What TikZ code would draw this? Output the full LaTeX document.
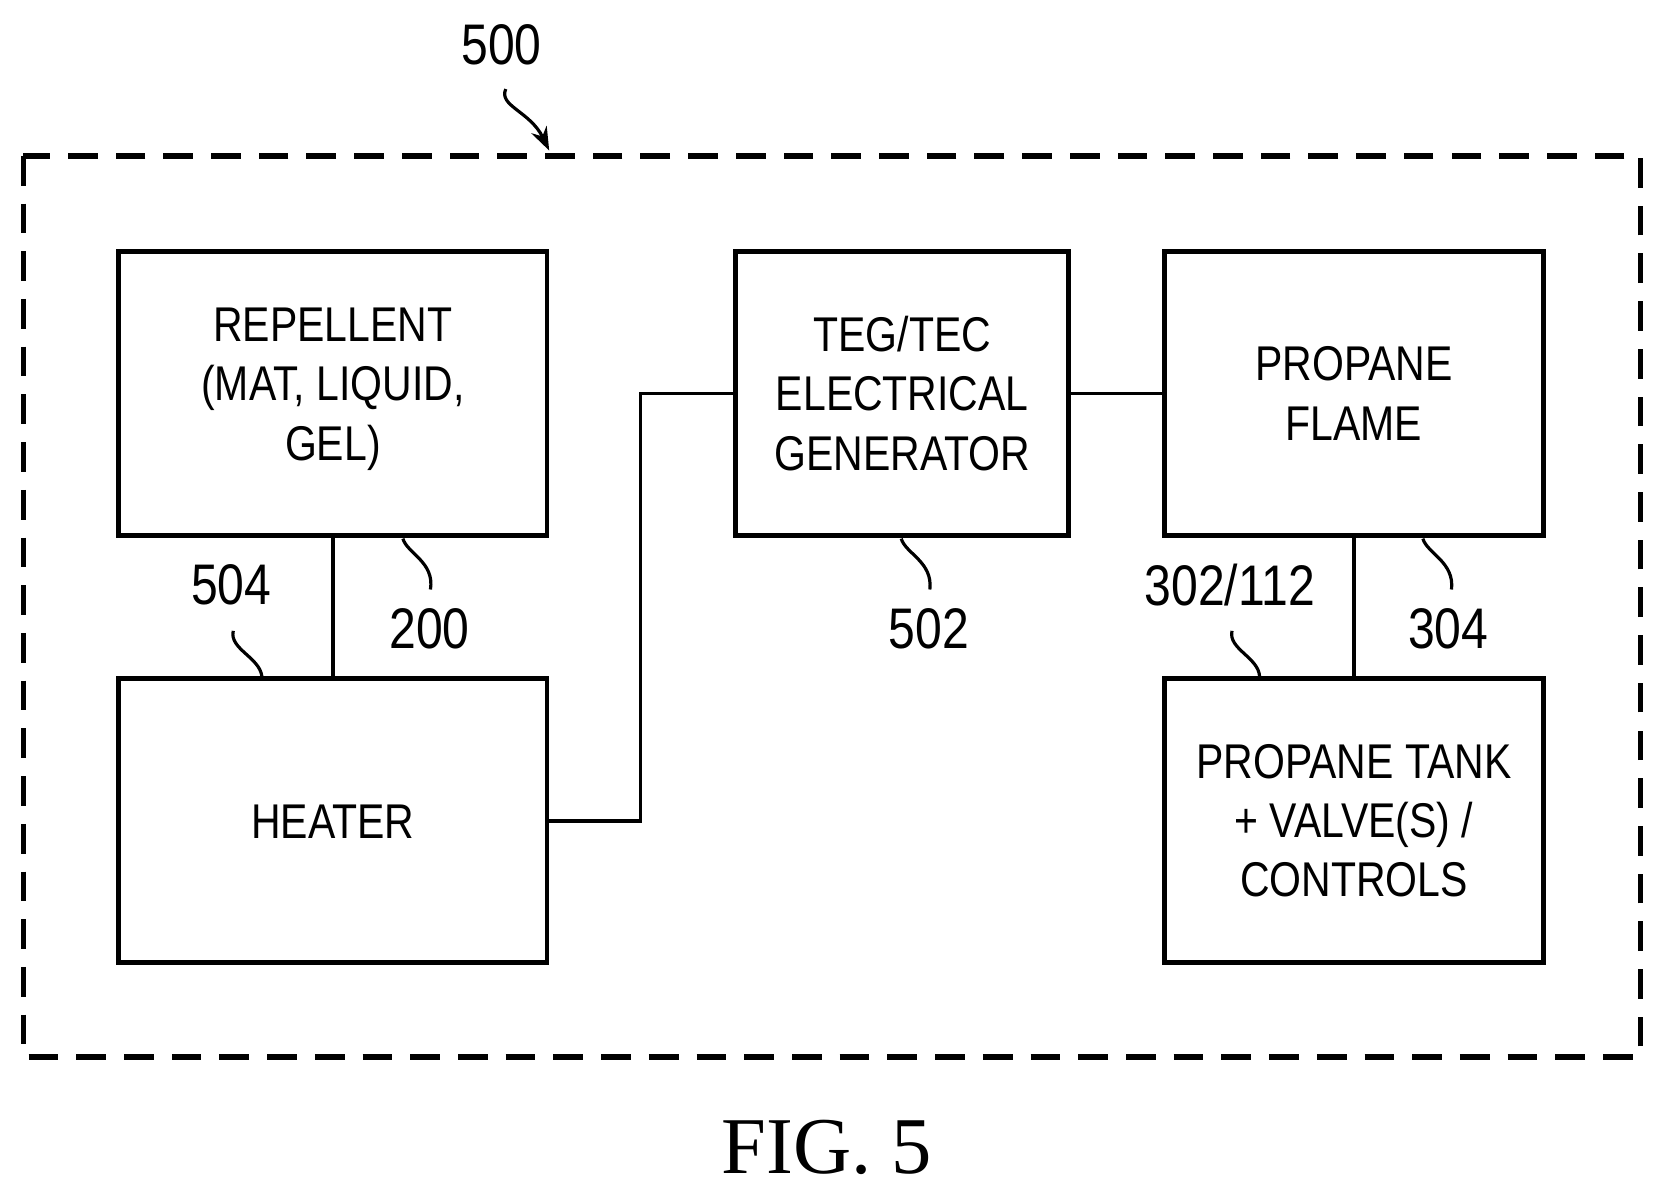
\documentclass[tikz,border=0pt]{standalone}
\usepackage{fontspec}
\setmainfont{Liberation Sans}[FakeStretch=0.84]
\newfontfamily\figfont{Liberation Serif}
\usetikzlibrary{arrows.meta}
\begin{document}
\begin{tikzpicture}[x=1pt,y=-1pt,
  box/.style={draw,line width=4.5pt,inner sep=0},
  txt/.style={align=center,font=\fontsize{46}{56}\selectfont},
  num/.style={font=\fontsize{54}{60}\selectfont},
  ln/.style={line width=3.5pt},
  sq/.style={line width=3pt}]
\useasboundingbox (0,0) rectangle (1560,1123);
\draw[line width=5pt,dash pattern=on 28pt off 17pt] (22,147) rectangle (1547,997);
\node[box,minimum width=404pt,minimum height=268pt] (rep) at (314,371) {};
\node[box,minimum width=404pt,minimum height=268pt] (hea) at (314,774) {};
\node[box,minimum width=314pt,minimum height=268pt] (teg) at (851,371) {};
\node[box,minimum width=358pt,minimum height=268pt] (fla) at (1277,371) {};
\node[box,minimum width=358pt,minimum height=268pt] (tan) at (1277,774) {};
\node[txt] (trep) at (314,367) {REPELLENT\\(MAT, LIQUID,\\GEL)};
\node[txt] (thea) at (314,775) {HEATER};
\node[txt] (tteg) at (851,371) {TEG/TEC\\ELECTRICAL\\GENERATOR};
\node[txt] (tfla) at (1277,371) {PROPANE\\FLAME};
\node[txt] (ttan) at (1277,774) {PROPANE TANK\\+ VALVE(S) /\\CONTROLS};
\draw[ln] (rep.south) -- (hea.north);
\draw[ln] (fla.south) -- (tan.north);
\draw[ln] (teg.east) -- (fla.west);
\draw[ln] (hea.east) -- (604,774) -- (604,371) -- (teg.west);
\node[num] (l500) at (473,42) {500};
\node[num] (l504) at (218,552) {504};
\node[num] (l200) at (405,593) {200};
\node[num] (l502) at (876,593) {502};
\node[num] (l302) at (1160,552) {302/112};
\node[num] (l304) at (1366,593) {304};
\coordinate (a500) at (518,142);
\draw[sq,-{Stealth[length=22pt,width=16pt]}] (477,84) .. controls (470,100) and (500,105) .. (a500);
\coordinate (e504) at (247,638);
\draw[sq] (220,595) .. controls (216,612) and (245,620) .. (e504);
\coordinate (s200) at (380,508);
\draw[sq] (s200) .. controls (384,522) and (410,530) .. (406,556);
\coordinate (s502) at (850,508);
\draw[sq] (s502) .. controls (854,522) and (880,530) .. (877,556);
\coordinate (e302) at (1188,638);
\draw[sq] (1162,595) .. controls (1158,612) and (1187,620) .. (e302);
\coordinate (s304) at (1342,508);
\draw[sq] (s304) .. controls (1346,522) and (1372,530) .. (1369,556);
\node[font=\figfont\fontsize{76}{80}\selectfont] (fig) at (780,1082) {FIG. 5};
\end{tikzpicture}
\end{document}
